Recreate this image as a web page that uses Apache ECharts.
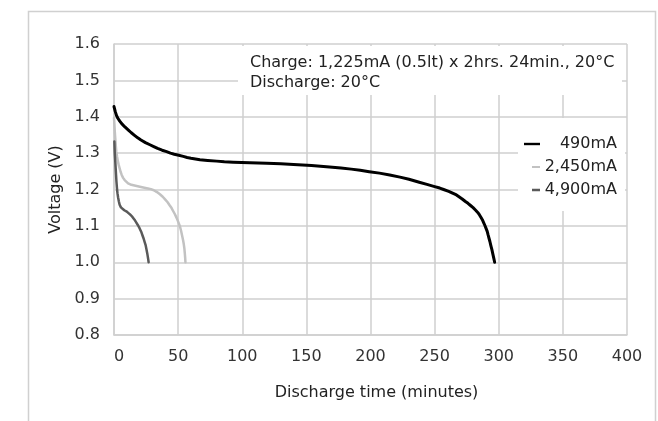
<!DOCTYPE html>
<html>
<head>
<meta charset="utf-8">
<script src="https://cdn.jsdelivr.net/npm/echarts@6/dist/echarts.min.js"></script>
<style>html,body{margin:0;padding:0;background:#fff}#c{width:658px;height:421px}</style>
</head>
<body>
<div id="c"></div>
<script>
var seriesNames = ['490mA', '2,450mA', '4,900mA'];
var seriesColors = ['#000000', '#c2c2c2', '#5a5a5a'];
var yTicks = [0.8, 1.6, 0.1];
var xTicks = [0, 400, 50];
var annotationLines = ['Charge: 1,225mA (0.5lt) x 2hrs. 24min., 20°C', 'Discharge: 20°C'];

var d490 = [[0,1.428],[1,1.414],[2,1.403],[3,1.396],[4.5,1.388],[6,1.381],[8.5,1.372],[11,1.364],[13.5,1.356],[16,1.349],[18.5,1.342],[21,1.336],[24.5,1.329],[28,1.323],[31,1.318],[34,1.313],[37.5,1.308],[41,1.304],[44,1.300],[47,1.297],[50.5,1.294],[54,1.291],[57,1.288],[60,1.286],[63.5,1.284],[67,1.282],[73,1.280],[80,1.278],[86,1.276],[93,1.275],[106,1.2735],[119,1.272],[130,1.2705],[140,1.269],[154,1.266],[168,1.262],[177,1.259],[185,1.256],[192,1.253],[199,1.249],[207,1.245],[215,1.240],[223,1.234],[230,1.228],[234,1.224],[238,1.220],[244,1.214],[250,1.208],[254,1.204],[257,1.200],[261,1.195],[264,1.190],[267,1.185],[269,1.180],[271.5,1.174],[274,1.167],[276,1.162],[278,1.156],[280,1.150],[282,1.143],[283.6,1.137],[285,1.130],[286.2,1.123],[287.2,1.117],[288.2,1.109],[289.2,1.101],[290.1,1.093],[291,1.085],[291.7,1.075],[292.4,1.066],[293.1,1.057],[293.7,1.048],[294.2,1.041],[294.7,1.034],[295.5,1.021],[296.2,1.010],[296.8,1.0]];
var d2450 = [[0,1.397],[0.3,1.38],[0.6,1.36],[0.9,1.345],[1.2,1.33],[1.5,1.316],[1.8,1.304],[2.4,1.290],[3,1.278],[3.7,1.267],[4.4,1.258],[5.2,1.248],[6,1.240],[7.1,1.232],[8.3,1.226],[9.6,1.221],[11,1.217],[13.5,1.213],[16,1.211],[18.5,1.209],[21,1.207],[23.7,1.205],[26.4,1.203],[28.8,1.201],[31,1.198],[33.5,1.193],[35.8,1.187],[38,1.180],[40,1.172],[41.8,1.165],[43.5,1.156],[44.9,1.149],[46.1,1.141],[47.5,1.132],[48.8,1.122],[50.1,1.111],[51.3,1.100],[52.2,1.088],[53,1.075],[53.8,1.062],[54.4,1.050],[54.9,1.037],[55.2,1.025],[55.5,1.012],[55.7,1.0]];
var d4900 = [[0.3,1.332],[0.45,1.315],[0.6,1.300],[0.8,1.288],[1,1.277],[1.3,1.258],[1.6,1.240],[1.9,1.222],[2.3,1.204],[2.7,1.190],[3.2,1.178],[3.8,1.167],[4.4,1.158],[5.4,1.151],[6.5,1.147],[8,1.143],[9.6,1.140],[11.3,1.135],[13,1.130],[14.5,1.124],[16,1.117],[17.4,1.109],[18.8,1.101],[20,1.093],[21.2,1.084],[22.1,1.075],[23,1.066],[23.8,1.057],[24.6,1.048],[25.3,1.036],[25.9,1.025],[26.5,1.012],[27,1.0]];

var dataSets = [d490, d2450, d4900];
var widths = [3, 2.5, 2.5];
var legendIcons = [
  'path://M0,5.8 L16,5.8 L16,8.2 L0,8.2 Z',
  'path://M0,0 L0,14 L0,0 Z M8,6 L16,6 L16,8 L8,8 Z',
  'path://M0,0 L0,14 L0,0 Z M8,5.8 L16,5.8 L16,8.2 L8,8.2 Z'
];

var font = 'DejaVu Sans';
var fs = 16;
var chart = echarts.init(document.getElementById('c'));
var series = seriesNames.map(function (n, i) {
  return {
    name: n, type: 'line', data: dataSets[i], symbol: 'none', smooth: false,
    lineStyle: { color: seriesColors[i], width: widths[i], join: 'round', cap: 'round' },
    itemStyle: { color: seriesColors[i] }, z: 3
  };
});

chart.setOption({
  animation: false,
  backgroundColor: '#fff',
  textStyle: { fontFamily: font },
  grid: { left: 114, top: 44, right: 31, bottom: 86, containLabel: false },
  xAxis: {
    type: 'value', min: xTicks[0], max: xTicks[1], interval: xTicks[2],
    name: 'Discharge time (minutes)', nameLocation: 'middle', nameGap: 50,
    nameTextStyle: { fontSize: fs, color: '#222', fontFamily: font, padding: [0, 0, 0, 12] },
    axisLine: { show: true, lineStyle: { color: '#cfcfcf', width: 1.5 } },
    axisTick: { show: false },
    axisLabel: { fontSize: fs, color: '#333', margin: 14, fontFamily: font,
      formatter: function (v) { return v === 0 ? '{z|0}' : String(v); },
      rich: { z: { fontSize: fs, color: '#333', fontFamily: font, padding: [0, 0, 0, 10] } } },
    splitLine: { show: true, lineStyle: { color: '#cfcfcf', width: 1.5 } }
  },
  yAxis: {
    type: 'value', min: yTicks[0], max: yTicks[1], interval: yTicks[2],
    name: 'Voltage (V)', nameLocation: 'middle', nameGap: 50, nameRotate: 90,
    nameTextStyle: { fontSize: fs, color: '#222', fontFamily: font },
    axisLine: { show: true, lineStyle: { color: '#cfcfcf', width: 1.5 } },
    axisTick: { show: false },
    axisLabel: { fontSize: fs, color: '#333', margin: 14, fontFamily: font,
      formatter: function (v) { return v.toFixed(1); } },
    splitLine: { show: true, lineStyle: { color: '#cfcfcf', width: 1.5 } }
  },
  legend: {
    data: seriesNames.map(function (n, i) { return { name: n, icon: legendIcons[i] }; }),
    orient: 'vertical', left: 518, top: 118,
    backgroundColor: '#fff',
    padding: [18, 8, 13, 6],
    itemWidth: 16, itemHeight: 14, itemGap: 7,
    formatter: '{a|{name}}',
    textStyle: { fontSize: fs, color: '#222', fontFamily: font,
      rich: { a: { width: 72, align: 'right', fontSize: fs, color: '#222', fontFamily: font } } }
  },
  graphic: [
    { type: 'rect', shape: { x: 28.5, y: 11.5, width: 627, height: 430 },
      style: { fill: 'none', stroke: '#d0d0d0', lineWidth: 1.5 }, z: 0, silent: true },
    { type: 'rect', shape: { x: 238, y: 46, width: 384, height: 49 },
      style: { fill: '#fff' }, z: 5, silent: true },
    { type: 'text', x: 250, y: 63, z: 6,
      style: { text: annotationLines[0], font: fs + 'px "' + font + '"', fill: '#222', verticalAlign: 'middle' } },
    { type: 'text', x: 250, y: 83, z: 6,
      style: { text: annotationLines[1], font: fs + 'px "' + font + '"', fill: '#222', verticalAlign: 'middle' } }
  ],
  series: series
});
</script>
</body>
</html>
